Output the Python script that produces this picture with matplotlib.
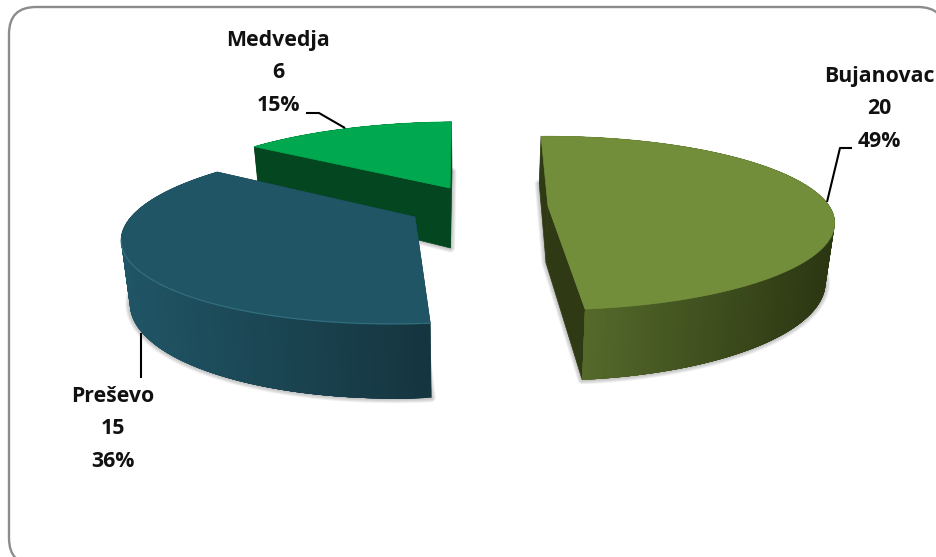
import numpy as np
import matplotlib
matplotlib.use("Agg")
import matplotlib.pyplot as plt
from matplotlib.patches import FancyBboxPatch, Polygon
from matplotlib.colors import to_rgb

# dados do grafico
names = ["Bujanovac", "Preševo", "Medvedja"]
values = [20, 15, 6]
percents = [49, 36, 15]

top_colors = ["#728E3A", "#205566", "#00A94F"]
cut_colors = ["#2F3A15", "#163A45", "#03461F"]
rim_left = ["#556A2B", "#205566", "#03461F"]
rim_right = ["#2B3612", "#15353F", "#03461F"]

# layout de cada fatia: vertice, escala x, escala y, cisalhamento, profundidade
apex = [(548, 206), (415, 217), (450, 188)]
scale_x = [0.99, 1.0, 0.97]
scale_y = [0.97, 1.0, 0.92]
shear = [0, -18, -10]
depth = [57, 60, 60]
label_pos = [(879, 109), (113, 429), (278, 73)]
leaders = [
    [(852, 148), (840, 148), (827, 202)],
    [(141, 333), (141, 378)],
    [(306, 113), (319, 113), (345, 128)],
]

START = 91.7
K = 0.196
A0 = 284
B0 = 86
VX = 470


def project(i, theta):
    X = np.cos(np.radians(theta))
    Y = np.sin(np.radians(theta))
    w = 1 + K * Y
    x = apex[i][0] + (A0 * X * scale_x[i] - shear[i] * Y) / w
    y = apex[i][1] - B0 * Y * scale_y[i] / w
    return x, y, w


def bottom(i, x, y, w):
    return x + (VX - x) * 0.025, y + depth[i] / w


def mix(c1, c2, t):
    c1, c2 = np.array(to_rgb(c1)), np.array(to_rgb(c2))
    return tuple(c1 + (c2 - c1) * t)


def wedge(ax, i, t0, t1):
    thetas = np.linspace(t0, t1, 200)
    x, y, w = project(i, thetas)
    xb, yb = bottom(i, x, y, w)
    # o vertice fica fixo
    px, py = apex[i]
    pxb, pyb = bottom(i, px, py, 1.0)

    # sombra suave em volta da base
    base = np.column_stack([np.r_[pxb, xb], np.r_[pyb, yb]])
    for lw in [9, 7, 5, 3]:
        ax.add_patch(Polygon(base, closed=True, fc="none", ec="#555555",
                             lw=lw * 0.72, alpha=0.09, joinstyle="round"))

    def rim(mask_back):
        # cada tira cobre a seguinte para nao aparecer emenda
        for j in range(len(x) - 1):
            if (np.sin(np.radians(thetas[j])) > 0) != mask_back:
                continue
            t = (x[j] - x.min()) / (x.max() - x.min())
            if i == 0:
                t = np.clip((x[j] - x[-1]) / (x.max() - x[-1]), 0, 1)
            c = mix(rim_left[i], rim_right[i], t)
            e = min(j + 6, len(x) - 1)
            outline = np.r_[np.column_stack([x[j:e + 1], y[j:e + 1]]),
                            np.column_stack([xb[j:e + 1], yb[j:e + 1]])[::-1]]
            ax.add_patch(Polygon(outline, closed=True, fc=c, ec="none", lw=0, snap=False))

    rim(True)
    # faces de corte
    for k in [0, -1]:
        quad = [(px, py), (x[k], y[k]), (xb[k], yb[k]), (pxb, pyb)]
        ax.add_patch(Polygon(quad, closed=True, fc=cut_colors[i], ec=cut_colors[i], lw=0.5))
    rim(False)
    # face superior
    top = np.column_stack([np.r_[px, x], np.r_[py, y]])
    ax.add_patch(Polygon(top, closed=True, fc=top_colors[i], ec=top_colors[i], lw=0.5))
    if i == 1:
        front = np.sin(np.radians(thetas)) < -0.25
        ax.plot(x[front], y[front], color="#3C8090", lw=0.9, alpha=0.6)


fig = plt.figure(figsize=(9.37, 5.57), dpi=100)
ax = fig.add_axes([0, 0, 1, 1])
ax.set_xlim(0, 937)
ax.set_ylim(557, 0)
ax.axis("off")

# moldura arredondada
ax.add_patch(FancyBboxPatch((9, 7), 936, 558, boxstyle="round,pad=0,rounding_size=27",
                            fc="white", ec="#8C8C8C", lw=1.7))

angles = [v / sum(values) * 360 for v in values]
limits = [START]
for a in angles:
    limits.append(limits[-1] - a)

for i in [2, 1, 0]:
    wedge(ax, i, limits[i], limits[i + 1])

for pts in leaders:
    pts = np.array(pts)
    ax.plot(pts[:, 0], pts[:, 1], color="black", lw=1.5, solid_capstyle="butt")

for name, v, p, pos in zip(names, values, percents, label_pos):
    ax.text(pos[0], pos[1], f"{name}\n{v}\n{p}%", ha="center", va="center",
            fontsize=15.3, family="Open Sans", weight="bold", color="#111111",
            linespacing=1.72)

fig.savefig("out.png", dpi=100)
